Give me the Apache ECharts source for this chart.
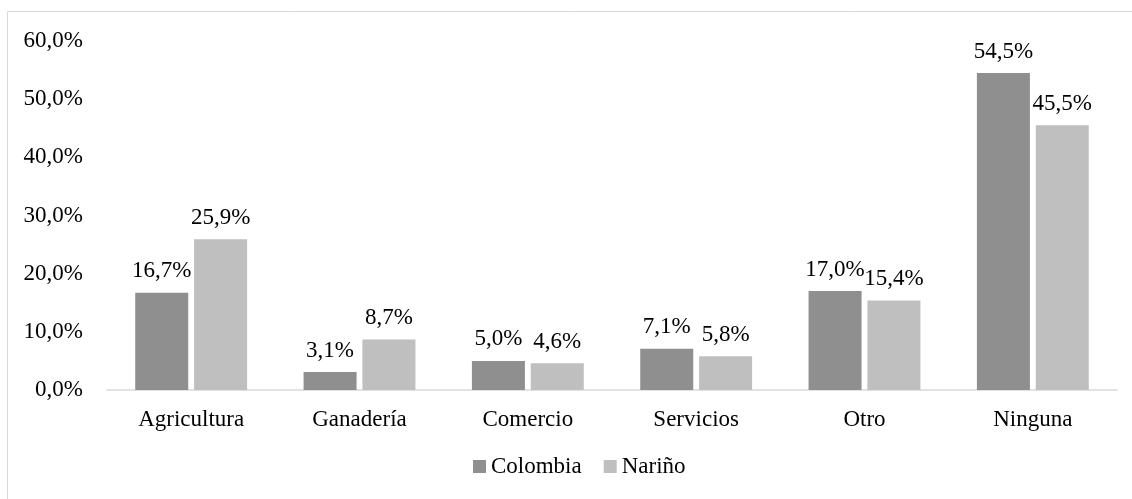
<!DOCTYPE html>
<html>
<head>
<meta charset="utf-8">
<script src="https://cdn.jsdelivr.net/npm/echarts@6/dist/echarts.min.js"></script>
<style>
  html, body { margin: 0; padding: 0; background: #fff; }
  #chart { width: 1132px; height: 499px; }
</style>
</head>
<body>
<div id="chart"></div>
<script>
// Activity categories and the share of each group
const categories = ['Agricultura', 'Ganadería', 'Comercio', 'Servicios', 'Otro', 'Ninguna'];
const colombia = [16.7, 3.1, 5.0, 7.1, 17.0, 54.5];
const narino = [25.9, 8.7, 4.6, 5.8, 15.4, 45.5];
const seriesNames = ['Colombia', 'Nariño'];
const yTicks = { min: 0, max: 60, interval: 10 };

const FONT = 'Liberation Serif';
const FS = 23;
const pct = v => v.toFixed(1).replace('.', ',') + '%';

const chart = echarts.init(document.getElementById('chart'), null, { renderer: 'canvas' });

const labelStyle = {
  show: true,
  position: 'top',
  distance: 10,
  color: '#000',
  fontFamily: FONT,
  fontSize: FS,
  formatter: p => pct(p.value)
};

chart.setOption({
  animation: false,
  backgroundColor: '#fff',
  graphic: [{
    type: 'rect',
    shape: { x: 7.5, y: 11.5, width: 1140, height: 520 },
    style: { fill: 'none', stroke: '#d9d9d9', lineWidth: 1 },
    silent: true,
    z: -1
  }],
  grid: { left: 107, right: 15, top: 41, bottom: 109, containLabel: false },
  legend: {
    data: seriesNames,
    bottom: 16,
    left: 468,
    icon: 'rect',
    itemWidth: 13,
    itemHeight: 13,
    itemGap: 22,
    textStyle: { fontFamily: FONT, fontSize: FS, color: '#000', padding: [0, 0, 0, 0] }
  },
  xAxis: {
    type: 'category',
    data: categories,
    axisLine: { lineStyle: { color: '#d9d9d9', width: 1.5 } },
    axisTick: { show: false },
    axisLabel: { fontFamily: FONT, fontSize: FS, color: '#000', margin: 18 }
  },
  yAxis: {
    type: 'value',
    min: yTicks.min,
    max: yTicks.max,
    interval: yTicks.interval,
    splitLine: { show: false },
    axisLine: { show: false },
    axisTick: { show: false },
    axisLabel: { fontFamily: FONT, fontSize: FS, color: '#000', margin: 24, formatter: v => pct(v) }
  },
  series: [
    {
      name: seriesNames[0],
      type: 'bar',
      data: colombia,
      barWidth: '31.5%',
      barGap: '11%',
      itemStyle: { color: '#8f8f8f' },
      label: labelStyle
    },
    {
      name: seriesNames[1],
      type: 'bar',
      data: narino,
      barWidth: '31.5%',
      barGap: '11%',
      itemStyle: { color: '#bfbfbf' },
      label: labelStyle
    }
  ]
});
</script>
</body>
</html>
